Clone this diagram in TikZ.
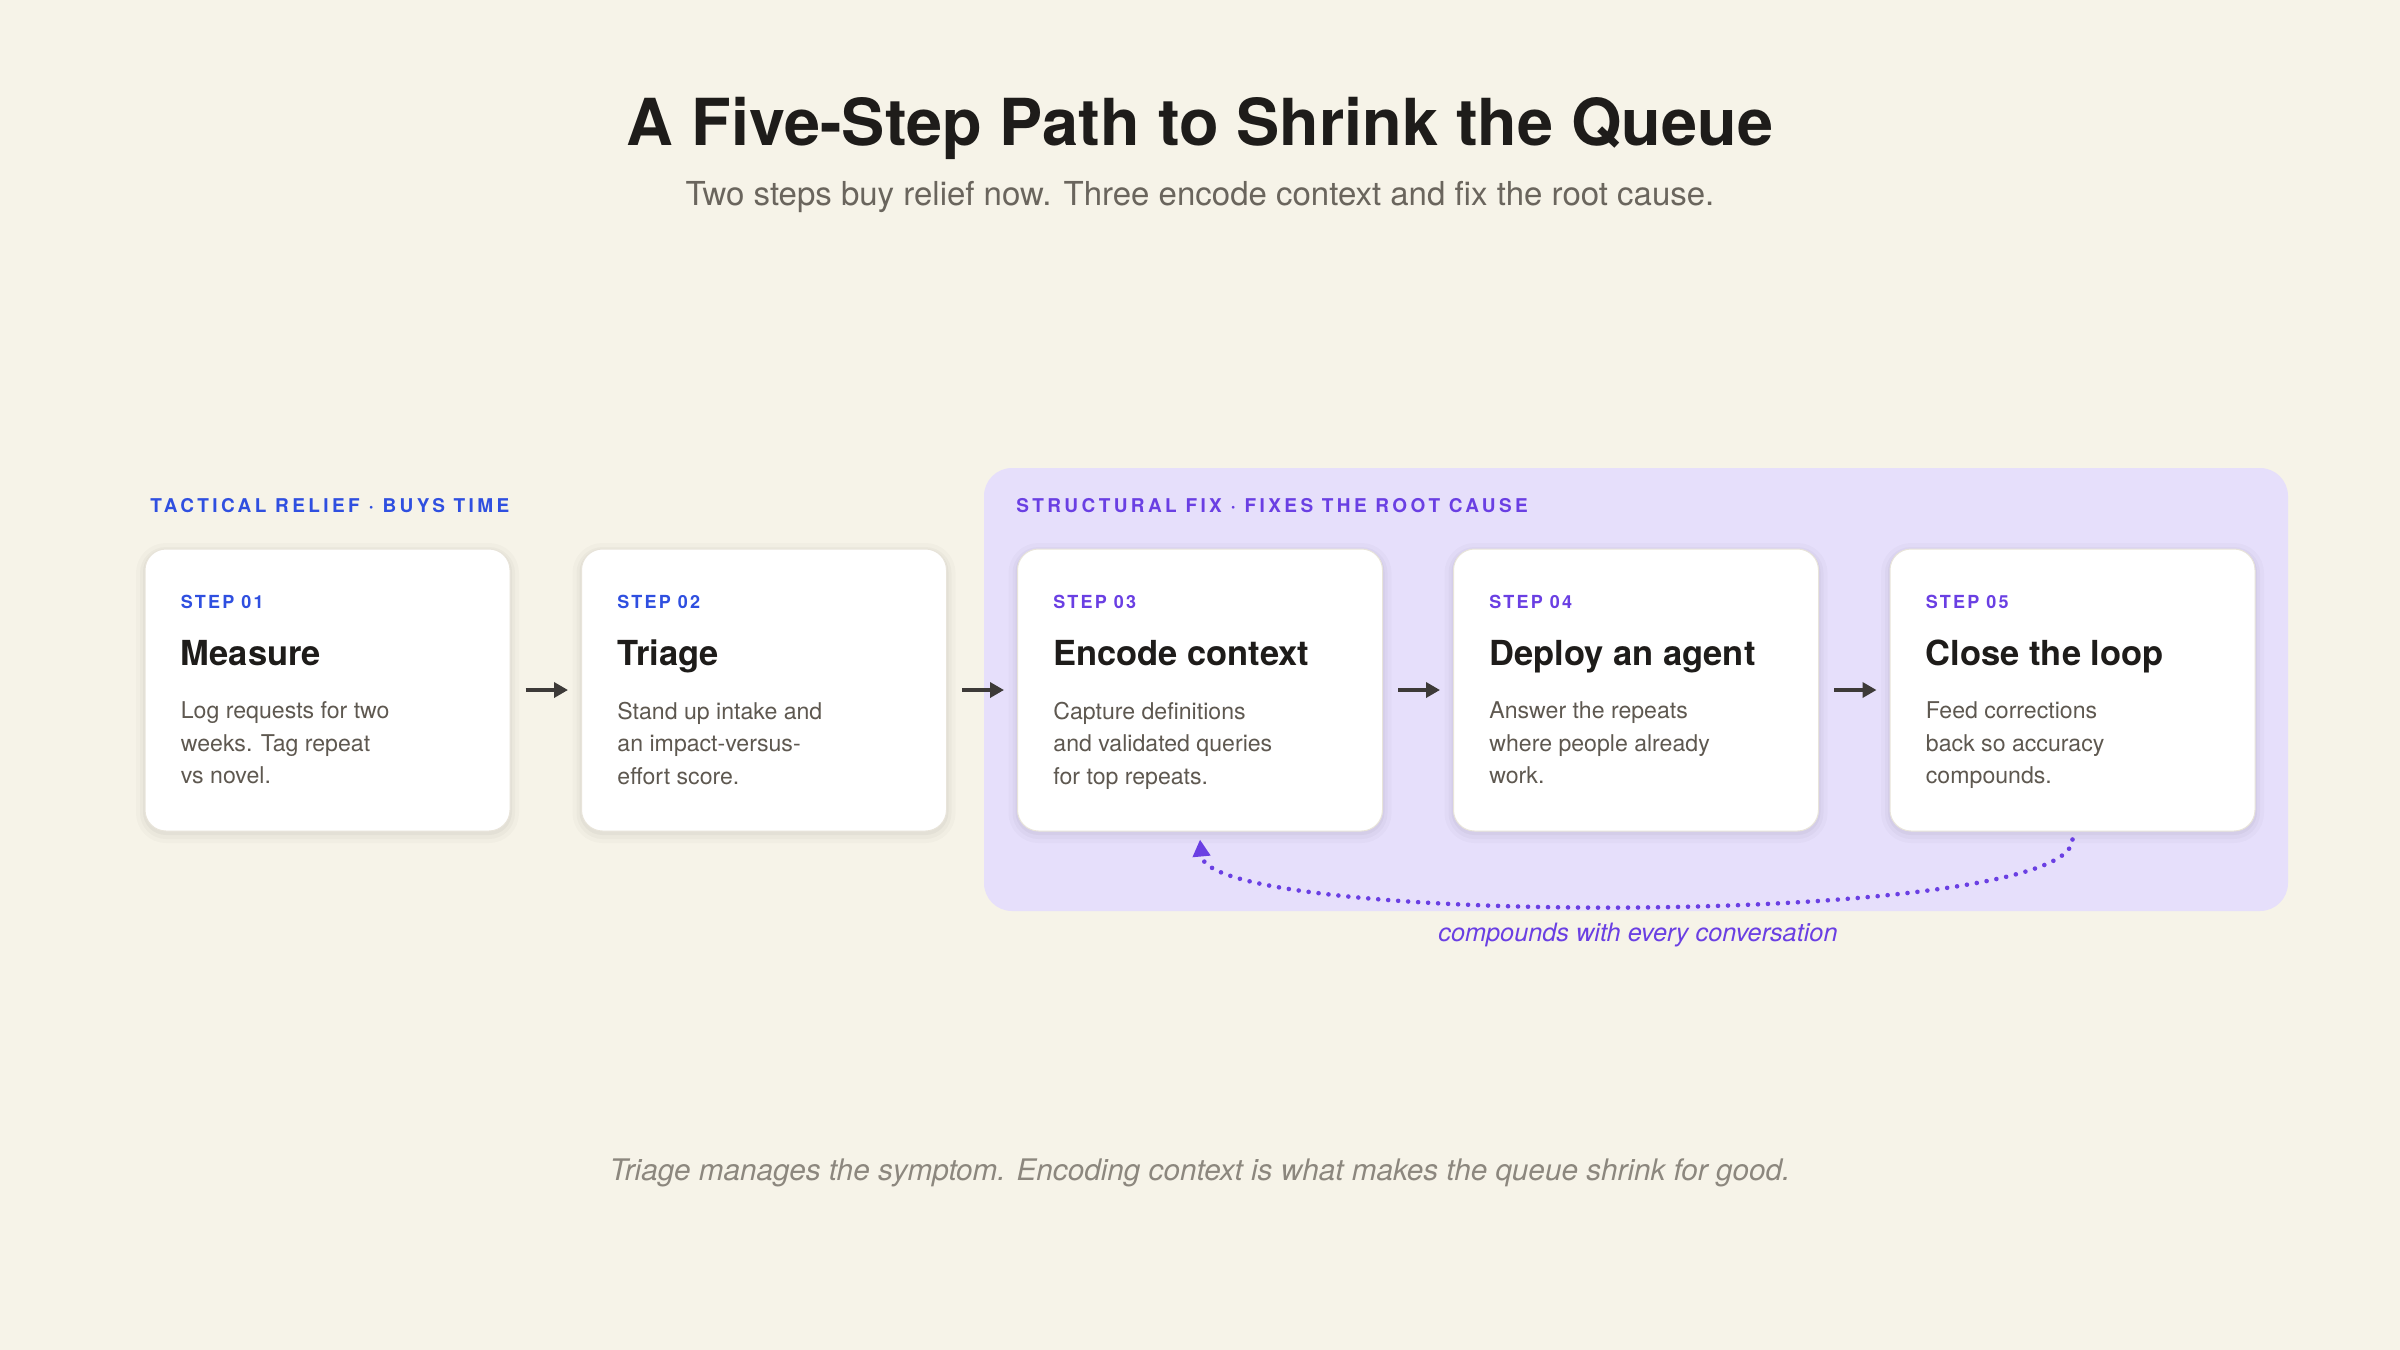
\documentclass[tikz,border=0pt]{standalone}
\usepackage{fontspec}
\setmainfont{TeX Gyre Heros}
\usetikzlibrary{arrows.meta}
\definecolor{bgc}{HTML}{F6F3E8}
\definecolor{panelc}{HTML}{E6DFFB}
\definecolor{cardline}{HTML}{E8E4DA}
\definecolor{bluec}{HTML}{2F4FE0}
\definecolor{purplec}{HTML}{6A3FE3}
\definecolor{inkc}{HTML}{1E1C1A}
\definecolor{bodyc}{HTML}{5E5850}
\definecolor{subc}{HTML}{6A655D}
\definecolor{footc}{HTML}{8C877E}
\definecolor{arrowc}{HTML}{3D3A38}
\newcommand\fTitle{\fontsize{32.4}{38}\selectfont\bfseries}
\newcommand\fSub{\fontsize{16.5}{20}\selectfont}
\newcommand\fHead{\fontsize{17.25}{21}\selectfont\bfseries}
\newcommand\fBody{\fontsize{11.55}{16.25}\selectfont}
\newcommand\fStep{\fontsize{9}{11}\selectfont\bfseries\addfontfeatures{LetterSpace=12}}
\newcommand\fSect{\fontsize{9.5}{11}\selectfont\bfseries\addfontfeatures{LetterSpace=18}}
\newcommand\fFoot{\fontsize{14.85}{18}\selectfont\itshape}
\newcommand\fLoop{\fontsize{12.65}{15}\selectfont\itshape}
\begin{document}
\begin{tikzpicture}[x=0.5pt,y=-0.5pt,
  card/.style={rounded corners=10.5pt, fill=white, draw=cardline, line width=0.5pt,
    minimum width=182.5pt, minimum height=141pt, inner sep=0pt,
    preaction={draw=black, draw opacity=0.018, line width=9pt, transform canvas={yshift=-1.5pt}},
    preaction={draw=black, draw opacity=0.022, line width=5pt, transform canvas={yshift=-1.5pt}},
    preaction={draw=black, draw opacity=0.03, line width=2pt, transform canvas={yshift=-1pt}}},
  steplbl/.style={anchor=base west, inner sep=0pt, font=\fStep},
  headlbl/.style={anchor=base west, inner sep=0pt, font=\fHead, text=inkc},
  bodylbl/.style={anchor=north west, inner sep=0pt, align=left, font=\fBody, text=bodyc},
  sectlbl/.style={anchor=base west, inner sep=0pt, font=\fSect},
  flow/.style={draw=arrowc, line width=1.9pt, -{Triangle[length=7pt,width=7.5pt]},
    shorten <=7.5pt, shorten >=6.5pt},
  loopline/.style={draw=purplec, line width=2.3pt, line cap=round, dash pattern=on 0pt off 5pt,
    -{Triangle[length=8.5pt,width=8.5pt]}}
]
\useasboundingbox (0,0) rectangle (2400,1350);
\fill[bgc] (0,0) rectangle (2400,1350);

% title
\node[anchor=base, inner sep=0pt, font=\fTitle, text=inkc] (title) at (1200,145) {A Five-Step Path to Shrink the Queue};
\node[anchor=base, inner sep=0pt, font=\fSub, text=subc] (subtitle) at (1200,205) {Two steps buy relief now. Three encode context and fix the root cause.};

% structural panel
\fill[panelc, rounded corners=14pt] (984,468) rectangle (2288,911);

% section labels
\node[sectlbl, text=bluec] (sect1) at (150,512) {TACTICAL RELIEF · BUYS TIME};
\node[sectlbl, text=purplec] (sect2) at (1016,512) {STRUCTURAL FIX · FIXES THE ROOT CAUSE};

% cards
\node[card] (c1) at (327.5,690) {};
\node[card] (c2) at (764,690) {};
\node[card] (c3) at (1200,690) {};
\node[card] (c4) at (1636,690) {};
\node[card] (c5) at (2072.5,690) {};

% card 1
\node[steplbl, text=bluec] (s1) at ([shift={(36,60)}]c1.north west) {STEP 01};
\node[headlbl] (h1) at ([shift={(36,117)}]c1.north west) {Measure};
\node[bodylbl] (b1) at ([shift={(36,153)}]c1.north west) {Log requests for two\\weeks. Tag repeat\\vs novel.};
% card 2
\node[steplbl, text=bluec] (s2) at ([shift={(36,60)}]c2.north west) {STEP 02};
\node[headlbl] (h2) at ([shift={(36,117)}]c2.north west) {Triage};
\node[bodylbl] (b2) at ([shift={(36,153)}]c2.north west) {Stand up intake and\\an impact-versus-\\effort score.};
% card 3
\node[steplbl, text=purplec] (s3) at ([shift={(36,60)}]c3.north west) {STEP 03};
\node[headlbl] (h3) at ([shift={(36,117)}]c3.north west) {Encode context};
\node[bodylbl] (b3) at ([shift={(36,153)}]c3.north west) {Capture definitions\\and validated queries\\for top repeats.};
% card 4
\node[steplbl, text=purplec] (s4) at ([shift={(36,60)}]c4.north west) {STEP 04};
\node[headlbl] (h4) at ([shift={(36,117)}]c4.north west) {Deploy an agent};
\node[bodylbl] (b4) at ([shift={(36,153)}]c4.north west) {Answer the repeats\\where people already\\work.};
% card 5
\node[steplbl, text=purplec] (s5) at ([shift={(36,60)}]c5.north west) {STEP 05};
\node[headlbl] (h5) at ([shift={(36,117)}]c5.north west) {Close the loop};
\node[bodylbl] (b5) at ([shift={(36,153)}]c5.north west) {Feed corrections\\back so accuracy\\compounds.};

% flow arrows
\draw[flow] (c1) -- (c2);
\draw[flow] (c2) -- (c3);
\draw[flow] (c3) -- (c4);
\draw[flow] (c4) -- (c5);

% feedback loop
\draw[loopline] ([yshift=-4pt]c5.south) .. controls +(0,88) and +(8,88) .. ([yshift=-4pt]c3.south);
\node[anchor=base, inner sep=0pt, font=\fLoop, text=purplec] (looplbl) at (1638,941) {compounds with every conversation};

% footer
\node[anchor=base, inner sep=0pt, font=\fFoot, text=footc] (footer) at (1200,1180) {Triage manages the symptom. Encoding context is what makes the queue shrink for good.};
\end{tikzpicture}
\end{document}
